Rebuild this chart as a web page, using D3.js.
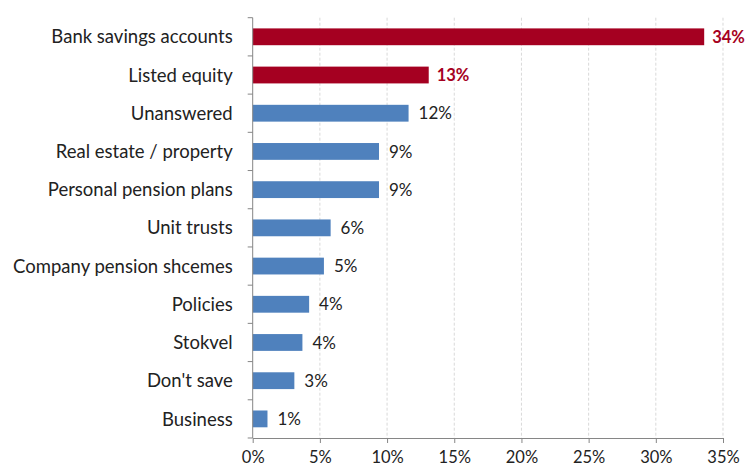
<!DOCTYPE html>
<html>
<head>
<meta charset="utf-8">
<script src="https://cdn.jsdelivr.net/npm/d3@7"></script>
<style>
  html, body { margin: 0; padding: 0; background: #fff; }
  svg text { font-family: Lato, "Open Sans", sans-serif; }
</style>
</head>
<body>
<svg id="chart" width="746" height="473"></svg>
<script>
// Savings vehicles, share of respondents
const categories = [
  "Bank savings accounts", "Listed equity", "Unanswered", "Real estate / property",
  "Personal pension plans", "Unit trusts", "Company pension shcemes", "Policies",
  "Stokvel", "Don't save", "Business"
];
const values = [0.336, 0.131, 0.116, 0.094, 0.094, 0.058, 0.053, 0.042, 0.037, 0.031, 0.011];
const highlighted = ["Bank savings accounts", "Listed equity"];
const xTicks = [0, 0.05, 0.10, 0.15, 0.20, 0.25, 0.30, 0.35];

const margin = { top: 17.7, right: 23, bottom: 35, left: 252.7 };
const W = 746, H = 473;
const innerW = W - margin.left - margin.right;
const innerH = H - margin.top - margin.bottom;

const svg = d3.select("#chart");
const g = svg.append("g").attr("transform", `translate(${margin.left},${margin.top})`);

const x = d3.scaleLinear().domain([0, 0.35]).range([0, innerW]);
const y = d3.scaleBand().domain(categories).range([0, innerH]).paddingInner(0.56).paddingOuter(0.28);

const pct = d3.format(".0%");
const red = "#A50021", blue = "#4F81BD", axisColor = "#868686";

// vertical dashed gridlines
g.selectAll("line.grid").data(xTicks.slice(1)).join("line")
  .attr("class", "grid")
  .attr("x1", d => x(d)).attr("x2", d => x(d))
  .attr("y1", 0).attr("y2", innerH)
  .attr("stroke", "#d9d9d9").attr("stroke-width", 1)
  .attr("stroke-dasharray", "3,2");

// bars
g.selectAll("rect.bar").data(categories).join("rect")
  .attr("class", "bar")
  .attr("x", 0)
  .attr("y", c => y(c))
  .attr("width", (c, i) => x(values[i]))
  .attr("height", y.bandwidth())
  .attr("fill", c => highlighted.includes(c) ? red : blue);

// value labels
g.selectAll("text.val").data(categories).join("text")
  .attr("class", "val")
  .attr("x", (c, i) => x(values[i]) + (highlighted.includes(c) ? 8 : 10))
  .attr("y", c => y(c) + y.bandwidth() / 2)
  .attr("dy", "0.36em")
  .attr("font-size", c => highlighted.includes(c) ? 16.5 : 17)
  .attr("font-weight", c => highlighted.includes(c) ? "bold" : "normal")
  .attr("fill", c => highlighted.includes(c) ? red : "#222")
  .text((c, i) => pct(values[i]));

// x axis
const xAxis = g.append("g").attr("transform", `translate(0,${innerH})`)
  .call(d3.axisBottom(x).tickValues(xTicks).tickFormat(pct).tickSizeInner(5).tickSizeOuter(0));
xAxis.select(".domain").attr("stroke", axisColor);
xAxis.selectAll(".tick line").attr("stroke", axisColor);
xAxis.selectAll(".tick text").attr("font-size", 16.5).attr("fill", "#222").attr("dy", "1.0em");

// y axis: tick marks at band boundaries, labels at band centers
const yAxis = g.append("g");
yAxis.append("line").attr("x1", 0).attr("x2", 0).attr("y1", 0).attr("y2", innerH)
  .attr("stroke", axisColor);
const bounds = d3.range(categories.length + 1).map(i => i * innerH / categories.length);
yAxis.selectAll("line.tk").data(bounds).join("line")
  .attr("class", "tk")
  .attr("x1", -5).attr("x2", 0)
  .attr("y1", d => d).attr("y2", d => d)
  .attr("stroke", axisColor);
yAxis.selectAll("text.cat").data(categories).join("text")
  .attr("class", "cat")
  .attr("x", -20)
  .attr("y", c => y(c) + y.bandwidth() / 2)
  .attr("dy", "0.36em")
  .attr("text-anchor", "end")
  .attr("font-size", 18.5)
  .attr("fill", "#222")
  .text(c => c);
</script>
</body>
</html>
